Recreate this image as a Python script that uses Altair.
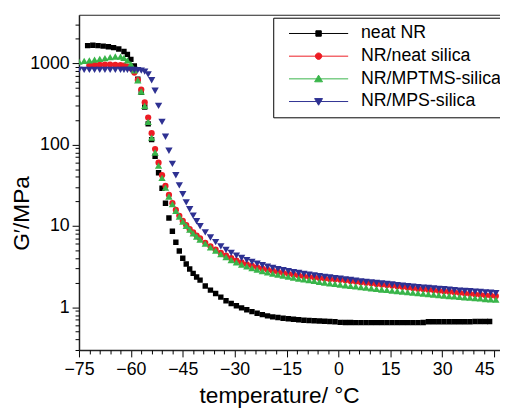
import altair as alt
import pandas as pd

FONT = "Liberation Sans"
SERIES = ["neat NR", "NR/neat silica", "NR/MPTMS-silica", "NR/MPS-silica"]
COLORS = ["#000000", "#ed1c24", "#39b54a", "#2e3192"]
MARKS = ["square", "circle", "triangle-up", "triangle-down"]
SIZES = [30, 40, 55, 55]
LEGEND_SHAPES = [
    "M-6,0H6M-0.55,-0.55H0.55V0.55H-0.55Z",
    "M-6,0H6M0.65,0A0.65,0.65,0,1,1,-0.65,0A0.65,0.65,0,1,1,0.65,0Z",
    "M-6,0H6M0,-0.75L0.8,0.6L-0.8,0.6Z",
    "M-6,0H6M0,0.75L0.8,-0.6L-0.8,-0.6Z",
]

X_DOMAIN = [-75, 46.7]
Y_DOMAIN = [0.297, 3960]
X_MAJOR = [-75, -60, -45, -30, -15, 0, 15, 30, 45]
X_MINOR = [-72, -69, -66, -63, -57, -54, -51, -48, -42, -39, -36, -33,
           -27, -24, -21, -18, -12, -9, -6, -3, 3, 6, 9, 12, 18, 21, 24, 27,
           33, 36, 39, 42]
Y_MAJOR = [1, 10, 100, 1000]
Y_MINOR = [0.3, 0.4, 0.5, 0.6, 0.7, 0.8, 0.9, 2, 3, 4, 5, 6, 7, 8, 9,
           20, 30, 40, 50, 60, 70, 80, 90, 200, 300, 400, 500, 600, 700,
           800, 900, 2000, 3000]

# neat NR
T_NR = [-72.5, -71, -69.5, -68, -66.5, -65, -63.5,
        -62, -61, -60, -59, -58, -57, -56, -55, -54, -53,
        -52, -51, -50, -49, -48, -47, -46, -45, -44, -43,
        -42, -41, -40,
        -38.5, -37, -35.5, -34, -32.5, -31, -29.5, -28, -26.5, -25,
        -23.5, -22, -20.5, -19, -17.5, -16, -14.5, -13, -11.5, -10,
        -8.5, -7, -5.5, -4, -2.5, -1, 0.5, 2, 3.5, 5,
        6.5, 8, 9.5, 11, 12.5, 14, 15.5, 17, 18.5, 20,
        21.5, 23, 24.5, 26, 27.5, 29, 30.5, 32, 33.5, 35,
        36.5, 38, 39.5, 41, 42.5, 43.7]
G_NR = [1650, 1670, 1650, 1630, 1600, 1560, 1500,
        1400, 1290, 1120, 930, 640, 440, 290, 180, 115, 72,
        45, 29, 19, 12.5, 8.6, 6.3, 4.9, 4.0, 3.4, 2.95,
        2.6, 2.35, 2.15,
        1.82, 1.62, 1.47, 1.33, 1.2, 1.11, 1.04, 0.98, 0.93, 0.88,
        0.84, 0.81, 0.78, 0.76, 0.745, 0.73, 0.72, 0.71, 0.70, 0.69,
        0.685, 0.68, 0.675, 0.67, 0.665, 0.66, 0.65, 0.648, 0.646, 0.645,
        0.645, 0.645, 0.645, 0.645, 0.645, 0.645, 0.645, 0.645, 0.645, 0.645,
        0.645, 0.645, 0.648, 0.66, 0.66, 0.66, 0.66, 0.66, 0.66, 0.66,
        0.662, 0.662, 0.665, 0.665, 0.665, 0.665]

# common temperature grid of the silica filled compounds
T_FILLED = [-75, -73.5, -72, -70.5, -69, -67.5, -66, -64.5, -63,
            -62, -61, -60, -59, -58, -57, -56, -55, -54, -53,
            -52, -51, -50, -49, -48, -47, -46, -45, -44, -43,
            -42, -41, -40,
            -38.5, -37, -35.5, -34, -32.5, -31, -29.5, -28, -26.5, -25,
            -23.5, -22, -20.5, -19, -17.5, -16, -14.5, -13, -11.5, -10,
            -8.5, -7, -5.5, -4, -2.5, -1, 0.5, 2, 3.5, 5,
            6.5, 8, 9.5, 11, 12.5, 14, 15.5, 17, 18.5, 20,
            21.5, 23, 24.5, 26, 27.5, 29, 30.5, 32, 33.5, 35,
            36.5, 38, 39.5, 41, 42.5, 44, 45.5]

T_SIL = [-72, -70.5, -69, -67.5, -66, -64.5, -63,
         -62, -61, -60, -59, -58, -57, -56, -55, -54, -53,
         -52, -51, -50, -49, -48, -47, -46, -45, -44, -43,
         -42, -41, -40,
         -38.5, -37, -35.5, -34, -32.5, -31, -29.5, -28, -26.5, -25,
         -23.5, -22, -20.5, -19, -17.5, -16, -14.5, -13, -11.5, -10,
         -8.5, -7, -5.5, -4, -2.5, -1, 0.5, 2, 3.5, 5,
         6.5, 8, 9.5, 11, 12.5, 14, 15.5, 17, 18.5, 20,
         21.5, 23, 24.5, 26, 27.5, 29, 30.5, 32, 33.5, 35,
         36.5, 38, 39.5, 41, 42.5, 44, 45.5]
G_SIL = [950, 955, 960, 965, 965, 960, 950,
         935, 910, 870, 770, 625, 475, 330, 215, 138, 88,
         60, 42, 31, 24, 19, 15.7, 13.3, 11.5, 10.2, 9.1,
         8.3, 7.6, 7.0,
         6.2, 5.6, 5.1, 4.65, 4.3, 4.0, 3.75, 3.55, 3.37, 3.22,
         3.09, 2.98, 2.88, 2.79, 2.71, 2.64, 2.57, 2.51, 2.45, 2.4,
         2.36, 2.32, 2.28, 2.25, 2.22, 2.2, 2.17, 2.14, 2.1, 2.07,
         2.03, 2.0, 1.97, 1.93, 1.9, 1.87, 1.84, 1.81, 1.78, 1.75,
         1.72, 1.69, 1.67, 1.64, 1.62, 1.59, 1.57, 1.55, 1.52, 1.5,
         1.48, 1.46, 1.44, 1.42, 1.4, 1.39, 1.37]

G_MPTMS = [1050, 1070, 1090, 1110, 1135, 1160, 1190, 1215, 1210,
           1170, 1090, 980, 820, 620, 450, 300, 190, 122, 80,
           55, 39, 29.5, 23, 18.5, 15.3, 13, 11.3, 10, 9,
           8.1, 7.4, 6.8,
           6.05, 5.45, 4.95, 4.5, 4.12, 3.8, 3.55, 3.35, 3.17, 3.02,
           2.89, 2.78, 2.68, 2.59, 2.51, 2.44, 2.37, 2.31, 2.25, 2.2,
           2.15, 2.1, 2.05, 2.01, 1.97, 1.93, 1.9, 1.86, 1.83, 1.8,
           1.77, 1.74, 1.71, 1.68, 1.65, 1.63, 1.6, 1.58, 1.55, 1.53,
           1.51, 1.49, 1.47, 1.45, 1.43, 1.41, 1.39, 1.37, 1.36, 1.34,
           1.32, 1.31, 1.29, 1.28, 1.26, 1.25, 1.24]

G_MPS = [830, 830, 830, 830, 830, 830, 830, 830, 830,
         830, 830, 830, 828, 825, 815, 790, 730, 620, 460,
         300, 190, 125, 84, 58, 42, 31.5, 24.5, 19.5, 16,
         13.4, 11.4, 9.9,
         8.3, 7.2, 6.3, 5.6, 5.05, 4.65, 4.3, 4.02, 3.79, 3.6,
         3.43, 3.28, 3.15, 3.04, 2.94, 2.85, 2.77, 2.7, 2.63, 2.57,
         2.51, 2.46, 2.41, 2.36, 2.32, 2.28, 2.24, 2.2, 2.16, 2.12,
         2.08, 2.05, 2.02, 1.99, 1.96, 1.93, 1.9, 1.87, 1.84, 1.81,
         1.79, 1.76, 1.74, 1.72, 1.7, 1.68, 1.66, 1.64, 1.62, 1.6,
         1.58, 1.57, 1.55, 1.54, 1.52, 1.51, 1.49]

frames = [
    pd.DataFrame({"T": T_NR, "G": G_NR}),
    pd.DataFrame({"T": T_SIL, "G": G_SIL}),
    pd.DataFrame({"T": T_FILLED, "G": G_MPTMS}),
    pd.DataFrame({"T": T_FILLED, "G": G_MPS}),
]

xs = alt.Scale(domain=X_DOMAIN, nice=False, zero=False)
ys = alt.Scale(type="log", domain=Y_DOMAIN, nice=False)

axis_common = dict(grid=False, tickColor="black", tickWidth=1,
                   labelFont=FONT, labelColor="black", titleFont=FONT,
                   titleColor="black", titleFontWeight="normal")

x_major = alt.Axis(values=X_MAJOR, format="d", title="temperature/ °C",
                   orient="bottom", domain=True, domainColor="#222222",
                   domainWidth=1.5, tickSize=7, labelFontSize=18,
                   labelPadding=4, titleFontSize=23, titlePadding=6,
                   titleX=203, labelFlush=False, labelOverlap=False,
                   labelAlign={"condition": {"test": "datum.value >= 45",
                                             "value": "right"},
                               "value": "center"},
                   **axis_common)
y_major = alt.Axis(values=Y_MAJOR, format="d", title="G′/MPa",
                   orient="left", domain=True, domainColor="#222222",
                   domainWidth=1.5, tickSize=7, labelFontSize=18,
                   labelPadding=3, titleFontSize=23,
                   titleX=-46, titleY=201, titleBaseline="bottom",
                   labelFlush=False, labelOverlap=False,
                   **axis_common)
x_minor = alt.Axis(values=X_MINOR, labels=False, title=None, orient="bottom",
                   domain=False, tickSize=4, **axis_common)
y_minor = alt.Axis(values=Y_MINOR, labels=False, title=None, orient="left",
                   domain=False, tickSize=4, **axis_common)
x_top = alt.Axis(values=[], labels=False, ticks=False, title=None,
                 orient="top", domain=True, domainColor="#222222",
                 domainWidth=1, **axis_common)


def series_layer(i, xaxis=None, yaxis=None, opacity=1.0):
    return alt.Chart(frames[i]).mark_point(
        filled=True, shape=MARKS[i], size=SIZES[i], color=COLORS[i],
        opacity=opacity, clip=True,
    ).encode(
        x=alt.X("T:Q", scale=xs, axis=xaxis),
        y=alt.Y("G:Q", scale=ys, axis=yaxis),
    )


base = series_layer(0, x_major, y_major)
minor = series_layer(0, x_minor, y_minor, opacity=0)
top = series_layer(0, x_top, None, opacity=0)
red = series_layer(1)
green = series_layer(2)
blue = series_layer(3)

legend = alt.Legend(
    orient="none", legendX=197, legendY=3, title=None,
    symbolSize=100, symbolStrokeWidth=1, symbolOffset=30, labelOffset=34,
    labelFont=FONT, labelFontSize=18, labelColor="black", labelLimit=300,
    padding=7, rowPadding=5, strokeColor="black", fillColor="white",
    symbolOpacity=1, cornerRadius=0,
)
legend_df = pd.DataFrame({"series": SERIES})
leg = alt.Chart(legend_df).mark_point(filled=False, opacity=0).encode(
    color=alt.Color("series:N", scale=alt.Scale(domain=SERIES, range=COLORS),
                    legend=legend),
    fill=alt.Fill("series:N", scale=alt.Scale(domain=SERIES, range=COLORS),
                  legend=legend),
    shape=alt.Shape("series:N",
                    scale=alt.Scale(domain=SERIES, range=LEGEND_SHAPES),
                    legend=legend),
)

chart = alt.layer(base, minor, top, red, green, blue, leg).resolve_axis(
    x="independent", y="independent"
).properties(
    width=427, height=340,
    autosize=alt.AutoSizeParams(type="none"),
    padding={"left": 72, "top": 4, "right": 0, "bottom": 58},
    background="white",
).configure_view(stroke=None)

chart.save("out.html", embed_options={"renderer": "svg", "actions": False})
